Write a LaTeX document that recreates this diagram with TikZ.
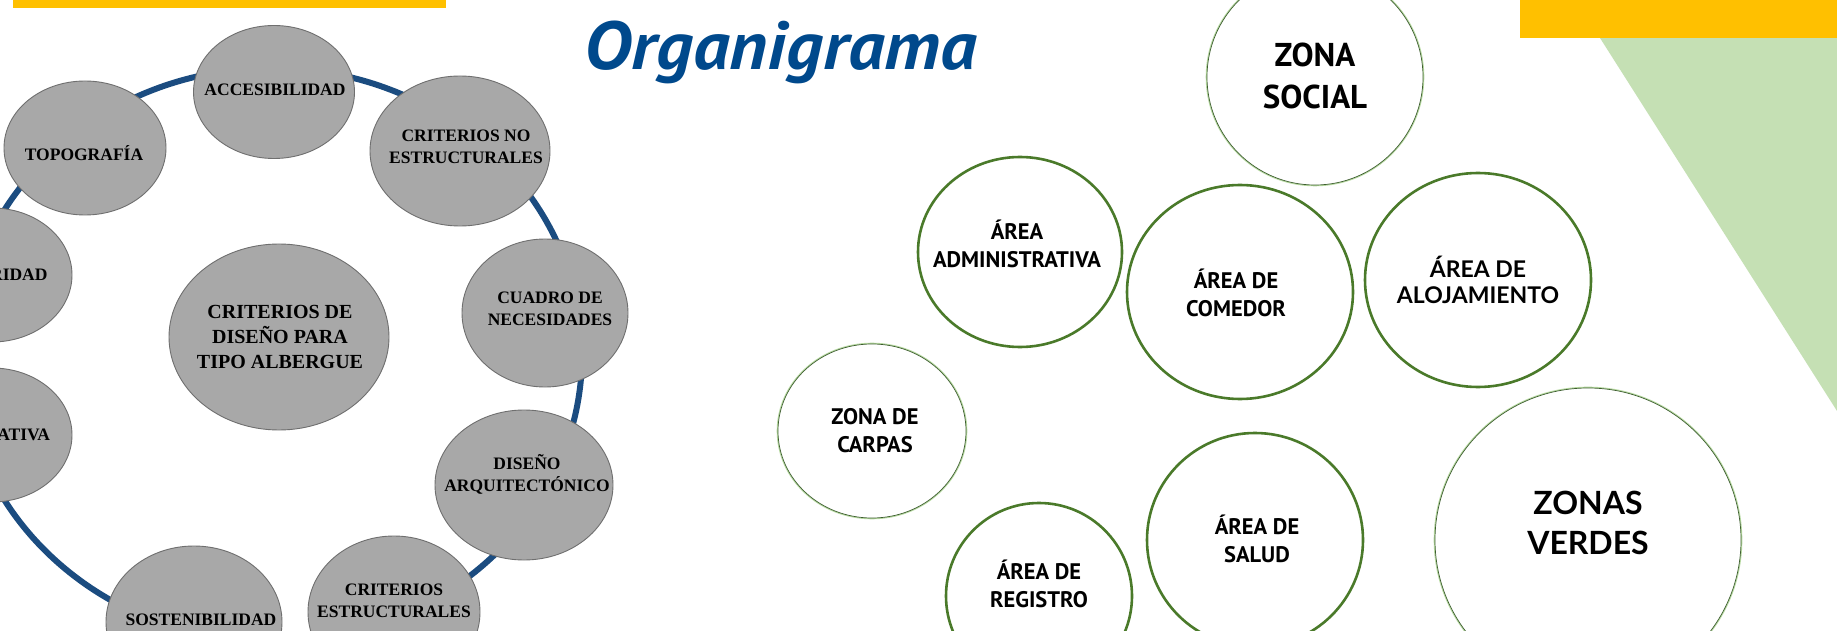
\documentclass[tikz,border=0pt]{standalone}
\usepackage{fontspec}
\setmainfont{Liberation Serif}
\newfontfamily\ptsans{PT Sans}
\newfontfamily\latofont{Lato}
\usetikzlibrary{shapes.geometric}
\definecolor{ygold}{HTML}{FFC000}
\definecolor{trigreen}{HTML}{C5E0B4}
\definecolor{titleblue}{HTML}{00498C}
\definecolor{ringblue}{HTML}{1B4C80}
\definecolor{gfill}{HTML}{A8A8A8}
\definecolor{gline}{HTML}{6F6F6F}
\definecolor{dgreen}{HTML}{4A7A2A}
\definecolor{lgreen}{HTML}{B8DAA2}
\definecolor{sgreen}{HTML}{3E5E30}
\begin{document}
\begin{tikzpicture}[x=1pt,y=-1pt,
  grayell/.style={ellipse, fill=gfill, draw=gline, line width=0.9pt, inner sep=0pt},
  ltext/.style={align=center, inner sep=0pt, font=\fontsize{17.5}{22}\selectfont\bfseries},
  ctext/.style={align=center, inner sep=0pt, font=\fontsize{20}{25}\selectfont\bfseries},
  ringline/.style={draw=ringblue, line width=6pt},
  greencirc/.style={ellipse, fill=white, draw=dgreen, line width=2.6pt, inner sep=0pt},
  softcirc/.style={ellipse, fill=white, draw=sgreen, line width=0.7pt, inner sep=0pt,
     preaction={draw=lgreen, line width=2.6pt}},
  rtext/.style={align=center, inner sep=0pt, font=\ptsans\fontsize{22.5}{28}\selectfont\bfseries},
  rbig/.style={align=center, inner sep=0pt, font=\ptsans\fontsize{33}{42}\selectfont\bfseries},
  gtext/.style={align=center, inner sep=0pt, font=\latofont\fontsize{23}{26}\selectfont\bfseries},
  gbig/.style={align=center, inner sep=0pt, font=\latofont\fontsize{32}{40}\selectfont\bfseries},
  titlestyle/.style={inner sep=0pt, text=titleblue, font=\ptsans\fontsize{68}{72}\selectfont\bfseries\itshape}
]
\useasboundingbox (0,0) rectangle (1837,631);
\clip (0,0) rectangle (1837,631);
\fill[white] (0,0) rectangle (1837,631);

% decorations
\fill[ygold] (13,0) rectangle (446,8);
\fill[trigreen] (1600,38) -- (1837,38) -- (1837,411) -- cycle;
\fill[ygold] (1520,0) rectangle (1837,38);

% title
\node[titlestyle, anchor=base, xscale=1.07] (title) at (781,70) {Organigrama};

% ring
\coordinate (ringc) at (272,355);
\draw[ringline] (ringc) ellipse [x radius=310pt, y radius=287pt];

% gray ellipses
\node[grayell, minimum width=160pt, minimum height=134pt] (seg) at (-8,275) {};
\node[ltext] (seg-t) at (-5,275) {SEGURIDAD};
\node[grayell, minimum width=162pt, minimum height=134pt] (topo) at (85,148) {};
\node[ltext] (topo-t) at (84,153) {TOPOGRAFÍA};
\node[grayell, minimum width=161pt, minimum height=133pt] (acc) at (274,92) {};
\node[ltext] (acc-t) at (275,90) {ACCESIBILIDAD};
\node[grayell, minimum width=180pt, minimum height=150pt] (critno) at (460,151) {};
\node[ltext] (critno-t) at (466,147) {CRITERIOS NO\\ESTRUCTURALES};
\node[grayell, minimum width=166pt, minimum height=148pt] (cuadro) at (545,313) {};
\node[ltext] (cuadro-t) at (550,309) {CUADRO DE\\NECESIDADES};
\node[grayell, minimum width=178pt, minimum height=150pt] (diseno) at (524,485) {};
\node[ltext] (diseno-t) at (527,474) {DISEÑO\\ARQUITECTÓNICO};
\node[grayell, minimum width=172pt, minimum height=152pt] (critest) at (394,612) {};
\node[ltext] (critest-t) at (394,601) {CRITERIOS\\ESTRUCTURALES};
\node[grayell, minimum width=176pt, minimum height=152pt] (sost) at (194,622) {};
\node[ltext] (sost-t) at (201,620) {SOSTENIBILIDAD};
\node[grayell, minimum width=160pt, minimum height=134pt] (norm) at (-8,435) {};
\node[ltext] (norm-t) at (-4,435) {NORMATIVA};
\node[grayell, minimum width=220pt, minimum height=186pt] (centro) at (279,337) {};
\node[ctext] (centro-t) at (280,337) {CRITERIOS DE\\DISEÑO PARA\\TIPO ALBERGUE};

% right circles
\node[softcirc, minimum width=216pt, minimum height=216pt] (social) at (1315,77) {};
\node[rbig] (social-t) at (1315,76) {ZONA\\SOCIAL};
\node[greencirc, minimum width=204pt, minimum height=190pt] (admin) at (1020,252) {};
\node[rtext] (admin-t) at (1017,244) {ÁREA\\ADMINISTRATIVA};
\node[greencirc, minimum width=226pt, minimum height=214pt] (comedor) at (1240,292) {};
\node[rtext] (comedor-t) at (1236,293) {ÁREA DE\\COMEDOR};
\node[greencirc, minimum width=226pt, minimum height=214pt] (aloj) at (1478,280) {};
\node[gtext] (aloj-t) at (1478,280) {ÁREA DE\\ALOJAMIENTO};
\node[softcirc, minimum width=188pt, minimum height=174pt] (carpas) at (872,431) {};
\node[rtext] (carpas-t) at (875,431) {ZONA DE\\CARPAS};
\node[greencirc, minimum width=186pt, minimum height=186pt] (registro) at (1039,596) {};
\node[rtext] (registro-t) at (1039,584) {ÁREA DE\\REGISTRO};
\node[greencirc, minimum width=216pt, minimum height=214pt] (salud) at (1255,540) {};
\node[rtext] (salud-t) at (1257,539) {ÁREA DE\\SALUD};
\node[softcirc, minimum width=306pt, minimum height=304pt] (verdes) at (1588,540) {};
\node[gbig] (verdes-t) at (1588,523) {ZONAS\\VERDES};
\end{tikzpicture}
\end{document}
